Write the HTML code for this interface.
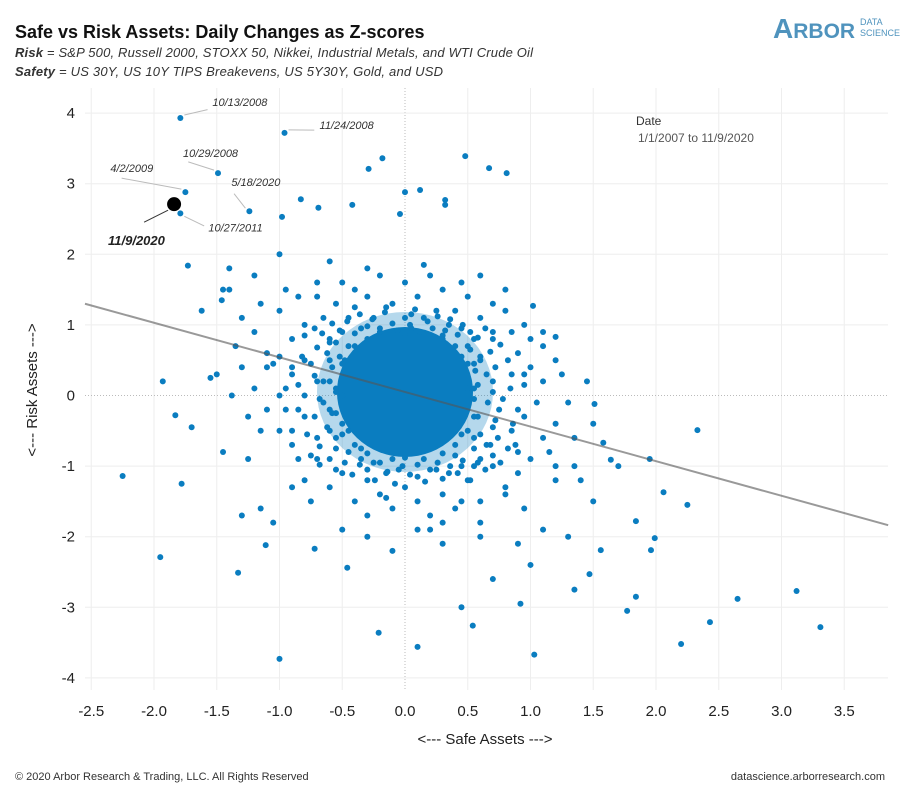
<!DOCTYPE html>
<html><head><meta charset="utf-8"><style>
body{margin:0;background:#fff;width:900px;height:800px;overflow:hidden;font-family:"Liberation Sans",sans-serif}
svg{position:absolute;left:0;top:0}
</style></head><body>
<svg id="chart" width="900" height="800" xmlns="http://www.w3.org/2000/svg">
<text x="15" y="38" font-size="18" font-weight="bold" fill="#111">Safe vs Risk Assets: Daily Changes as Z-scores</text>
<text x="15" y="57" font-size="13" font-style="italic" fill="#333" textLength="518"><tspan font-weight="bold">Risk</tspan>  = S&amp;P 500, Russell 2000, STOXX 50, Nikkei, Industrial Metals, and WTI Crude Oil</text>
<text x="15" y="76" font-size="13" font-style="italic" fill="#333" textLength="428"><tspan font-weight="bold">Safety</tspan> = US 30Y, US 10Y TIPS Breakevens, US 5Y30Y, Gold, and USD</text>
<g>
<text x="773" y="38" font-size="28" font-weight="bold" fill="#4f93bd">A<tspan font-size="21">RBOR</tspan></text>
<text x="860" y="25" font-size="9" fill="#4f93bd">DATA</text>
<text x="860" y="36" font-size="9" fill="#4f93bd">SCIENCE</text>
</g>
<g id="grid"></g>
<g id="points"></g>
<g id="axes"></g>
<text x="636" y="125" font-size="12" fill="#333">Date</text>
<text x="638" y="142" font-size="12" fill="#555">1/1/2007 to 11/9/2020</text>
<text x="485" y="744" font-size="15" text-anchor="middle" fill="#222">&lt;--- Safe Assets ---&gt;</text>
<text transform="translate(37,390) rotate(-90)" font-size="15" text-anchor="middle" fill="#222">&lt;--- Risk Assets ---&gt;</text>
<text x="15" y="780" font-size="11" fill="#333">© 2020 Arbor Research &amp; Trading, LLC. All Rights Reserved</text>
<text x="885" y="780" font-size="11" fill="#333" text-anchor="end">datascience.arborresearch.com</text>
</svg>
<script>
const NS="http://www.w3.org/2000/svg";
const xTicks=[-2.5,-2.0,-1.5,-1.0,-0.5,0.0,0.5,1.0,1.5,2.0,2.5,3.0,3.5];
const yTicks=[4,3,2,1,0,-1,-2,-3,-4];
const xLabels=["-2.5","-2.0","-1.5","-1.0","-0.5","0.0","0.5","1.0","1.5","2.0","2.5","3.0","3.5"];
const regIntercept=0.05;
const regSlope=-0.49;
const outX=[-1.79,-0.96,-1.75,-1.49,-1.79,-1.24,-0.18,0.48,0.67,0.81,-2.25,-1.95,-1.93,-1.83,-1.78,-1.33,-1.0,-0.21,0.1,1.03,0.45,0.54,0.92,2.33,3.12,3.31,2.65,2.43,2.2,1.99,2.06,2.25,1.96,1.84,1.95,1.77,1.84,1.51,1.58,1.64,1.2,1.02,1.35,1.47,1.56,-0.46,-0.72,-1.11,-1.62,-1.73,-1.46,-0.98,-0.69,-0.42,-0.04,0.0,0.12,0.32,0.32,-0.29,-0.83,-1.7,-1.55,-1.4,-1.3,-1.25,-1.15,-1.05,-1.38,-1.2,-1.1,-0.9,-1.3,-1.0,-1.4,-0.6,1.1,1.3,1.4,1.0,0.9,1.2,1.5,1.1,0.7,0.8,0.6,0.3,-0.1,0.2,-0.3,0.9,1.7];
const outY=[3.93,3.72,2.88,3.15,2.58,2.61,3.36,3.39,3.22,3.15,-1.14,-2.29,0.2,-0.28,-1.25,-2.51,-3.73,-3.36,-3.56,-3.67,-3.0,-3.26,-2.95,-0.49,-2.77,-3.28,-2.88,-3.21,-3.52,-2.02,-1.37,-1.55,-2.19,-1.78,-0.9,-3.05,-2.85,-0.12,-0.67,-0.91,0.83,1.27,-2.75,-2.53,-2.19,-2.44,-2.17,-2.12,1.2,1.84,1.35,2.53,2.66,2.7,2.57,2.88,2.91,2.7,2.77,3.21,2.78,-0.45,0.25,1.8,1.1,-0.9,-1.6,-1.8,0.0,1.7,0.4,-1.3,-1.7,2.0,1.5,1.9,-1.9,-2.0,-1.2,-2.4,-2.1,-1.0,-1.5,0.7,-2.6,-1.4,-2.0,-2.1,-2.2,-1.9,-2.0,-0.8,-1.0];
const coreStr="-1.2,0.9;-1.1,0.6;-1.0,1.2;-0.9,0.3;-0.8,1.0;-0.7,1.4;-0.6,0.8;-0.55,1.3;-0.5,1.6;-0.45,1.1;-0.4,1.5;-0.3,1.4;-0.2,1.7;-0.1,1.3;0.0,1.6;0.1,1.4;0.2,1.7;0.3,1.5;0.4,1.2;0.5,1.4;0.6,1.1;0.7,0.9;0.8,1.2;0.9,0.6;1.0,0.4;1.1,0.2;1.2,0.5;1.3,-0.1;1.2,-0.4;1.1,-0.6;1.0,-0.9;0.9,-1.1;0.8,-1.3;0.7,-1.0;0.6,-1.5;0.5,-1.2;0.4,-1.6;0.3,-1.4;0.2,-1.7;0.1,-1.5;0.0,-1.3;-0.1,-1.6;-0.2,-1.4;-0.3,-1.2;-0.4,-1.5;-0.5,-1.1;-0.6,-1.3;-0.7,-0.9;-0.8,-1.2;-0.9,-0.7;-1.0,-0.5;-1.1,-0.2;-1.2,0.1;-1.3,0.4;-1.0,0.0;-0.9,0.8;-0.8,0.5;-0.7,0.2;-0.8,-0.3;-0.7,-0.6;-0.6,-0.2;-0.6,0.5;-0.65,1.1;-0.5,0.9;-0.4,1.25;-0.25,1.1;-0.15,1.25;0.05,1.15;0.15,1.1;0.25,1.2;0.35,1.0;0.45,0.95;0.55,0.8;0.6,0.55;0.65,0.3;0.7,0.05;0.75,-0.2;0.7,-0.45;0.65,-0.7;0.6,-0.9;0.55,-1.0;0.45,-1.0;0.35,-1.1;0.25,-1.05;0.1,-1.15;-0.05,-1.05;-0.15,-1.1;-0.25,-0.95;-0.35,-0.9;-0.45,-0.8;-0.55,-0.75;-0.6,-0.5;-0.65,-0.1;-0.65,0.2;-0.6,0.75;0.85,0.3;0.85,-0.5;0.95,-0.3;0.95,0.15;1.05,-0.1;1.15,-0.8;1.25,0.3;1.35,-0.6;1.45,0.2;1.0,0.8;0.85,0.9;-0.85,-0.9;-0.95,-0.2;-1.05,0.45;-1.15,-0.5;-1.25,-0.3;-1.35,0.7;-0.75,-1.5;-0.3,-1.7;0.3,-1.8;0.45,-1.5;-0.15,-1.45;-0.7,1.6;-0.3,1.8;0.15,1.85;0.45,1.6;0.7,1.3;0.95,1.0;-1.45,1.5;-1.5,0.3;-1.45,-0.8;-0.95,1.5;-0.85,1.4;-1.15,1.3;0.6,1.7;0.8,1.5;1.1,0.9;-0.5,-1.9;0.1,-1.9;0.6,-1.8;0.95,-1.6;1.2,-1.2;1.35,-1.0;1.5,-0.4;-0.35,0.95;-0.2,0.95;0.05,0.95;0.3,0.85;0.5,0.7;0.55,0.45;0.55,0.1;0.55,-0.3;0.55,-0.6;0.4,-0.85;0.15,-0.9;-0.1,-0.9;-0.35,-0.75;-0.5,-0.55;-0.55,-0.25;-0.55,0.1;-0.5,0.45;-0.45,0.7";
const ringStr="-0.8,0.85;-0.72,0.95;-0.66,0.88;-0.58,1.02;-0.52,0.92;-0.46,1.05;-0.4,0.88;-0.36,1.15;-0.3,0.98;-0.26,1.08;-0.2,0.9;-0.16,1.18;-0.1,1.02;-0.06,0.92;0.0,1.1;0.04,1.0;0.08,1.22;0.12,0.9;0.18,1.05;0.22,0.95;0.26,1.12;0.32,0.92;0.36,1.08;0.42,0.86;0.46,1.0;0.52,0.9;0.58,0.82;0.64,0.95;0.7,0.8;0.76,0.72;-0.75,-0.85;-0.68,-0.98;-0.6,-0.9;-0.55,-1.05;-0.48,-0.95;-0.42,-1.12;-0.36,-0.98;-0.3,-1.05;-0.24,-1.2;-0.2,-0.95;-0.14,-1.08;-0.08,-1.25;-0.02,-1.0;0.04,-1.12;0.1,-0.98;0.16,-1.22;0.2,-1.05;0.26,-0.95;0.3,-1.18;0.36,-1.0;0.42,-1.1;0.46,-0.92;0.52,-1.2;0.58,-0.95;0.64,-1.05;0.7,-0.85;0.76,-0.95;0.82,-0.75;-0.55,0.75;-0.62,0.6;-0.7,0.68;-0.58,0.4;-0.75,0.45;-0.82,0.55;-0.6,0.2;-0.72,0.28;-0.85,0.15;-0.55,0.05;-0.68,-0.05;-0.8,0.0;-0.9,0.4;-0.58,-0.25;-0.72,-0.3;-0.85,-0.2;-0.62,-0.45;-0.78,-0.55;-0.55,-0.6;-0.68,-0.72;-0.9,-0.5;-0.95,0.1;-1.0,0.55;-0.5,-0.4;-0.52,0.55;0.52,0.65;0.6,0.5;0.68,0.62;0.56,0.35;0.72,0.4;0.82,0.5;0.58,0.15;0.7,0.2;0.84,0.1;0.55,-0.05;0.66,-0.1;0.78,-0.05;0.9,-0.2;0.58,-0.3;0.72,-0.35;0.86,-0.4;0.6,-0.55;0.74,-0.6;0.55,-0.75;0.68,-0.7;0.88,-0.7;0.95,0.3;0.5,0.45;0.5,-0.5;-0.48,0.5;-0.45,-0.5;0.45,0.55;0.45,-0.55;-0.3,0.8;0.3,0.8;-0.3,-0.82;0.3,-0.82;-0.5,0.0;0.5,0.1;0.0,0.85;0.0,-0.88;-0.4,0.7;0.4,-0.7;-0.4,-0.7;0.4,0.7";
const coreX=coreStr.split(";").map(s=>+s.split(",")[0]);
const coreY=coreStr.split(";").map(s=>+s.split(",")[1]);
const ringX=ringStr.split(";").map(s=>+s.split(",")[0]);
const ringY=ringStr.split(";").map(s=>+s.split(",")[1]);
const annLabels=["10/13/2008","11/24/2008","10/29/2008","4/2/2009","5/18/2020","10/27/2011"];
const annX=[-1.79,-0.96,-1.49,-1.75,-1.24,-1.79];
const annY=[3.93,3.72,3.15,2.88,2.61,2.58];
const hiX=-1.84, hiY=2.71;

const X0=405,XS=125.5,Y0=395.5,YS=70.6,L=85,R=888,T=88,B=690;
const sx=v=>X0+v*XS, sy=v=>Y0-v*YS;
function mk(tag,attrs,parent){const e=document.createElementNS(NS,tag);for(const k in attrs)e.setAttribute(k,attrs[k]);parent.appendChild(e);return e;}
const grid=document.getElementById('grid'),pts=document.getElementById('points'),axes=document.getElementById('axes');
xTicks.forEach((t,i)=>{
 const l=mk('line',{x1:sx(t),x2:sx(t),y1:T,y2:B,stroke:t===0?'#bbb':'#eee','stroke-dasharray':t===0?'1,2':'none'},grid);
 
 
 const tx=mk('text',{x:sx(t),y:716,'font-size':15,'text-anchor':'middle',fill:'#222'},axes);tx.textContent=xLabels[i];
 
 
});
yTicks.forEach(t=>{
 const l=mk('line',{x1:L,x2:R,y1:sy(t),y2:sy(t),stroke:t===0?'#bbb':'#eee','stroke-dasharray':t===0?'1,2':'none'},grid);
 
 
 const tx=mk('text',{x:75,y:sy(t)+5,'font-size':15,'text-anchor':'end',fill:'#222'},axes);tx.textContent=String(t);
 
 
});
const halo=mk('ellipse',{cx:sx(0.0),cy:sy(0.05),rx:88,ry:80,fill:'#0a7dc0',opacity:0.3},pts);


const core=mk('ellipse',{cx:sx(0.0),cy:sy(0.05),rx:68,ry:65,fill:'#0a7dc0'},pts);


function dot(x,y){const c=mk('circle',{cx:sx(x),cy:sy(y),r:3,fill:'#0a7dc0'},pts);
 
 }
coreX.forEach((x,i)=>dot(x,coreY[i]));
ringX.forEach((x,i)=>dot(x,ringY[i]));
outX.forEach((x,i)=>dot(x,outY[i]));
const xa=-2.55,xb=3.85;
const reg=mk('line',{x1:sx(xa),y1:sy(regIntercept+regSlope*xa),x2:sx(xb),y2:sy(regIntercept+regSlope*xb),stroke:'#555','stroke-opacity':0.6,'stroke-width':2},axes);


const offs=[[32,-12],[35,-4],[-35,-16],[-75,-20],[-18,-25],[28,18]];
annLabels.forEach((lab,i)=>{
 const px=sx(annX[i]),py=sy(annY[i]);const o=offs[i];
 const ln=mk('line',{x1:px+(o[0]>0?4:-4),y1:py+(o[1]>0?3:-3),x2:px+o[0]*0.85,y2:py+o[1]*0.7,stroke:'#bbb'},axes);
 
 
 const t=mk('text',{x:px+o[0],y:py+o[1],'font-size':11,'font-style':'italic',fill:'#333'},axes);t.textContent=lab;
 
 
});
const hp=mk('circle',{cx:sx(hiX),cy:sy(hiY),r:7,fill:'#000'},axes);


const hl=mk('line',{x1:sx(hiX)-6,y1:sy(hiY)+6,x2:sx(hiX)-30,y2:sy(hiY)+18,stroke:'#333'},axes);


const ht=mk('text',{x:108,y:245,'font-size':13,'font-weight':'bold','font-style':'italic',fill:'#222'},axes);ht.textContent='11/9/2020';


</script>
</body></html>
